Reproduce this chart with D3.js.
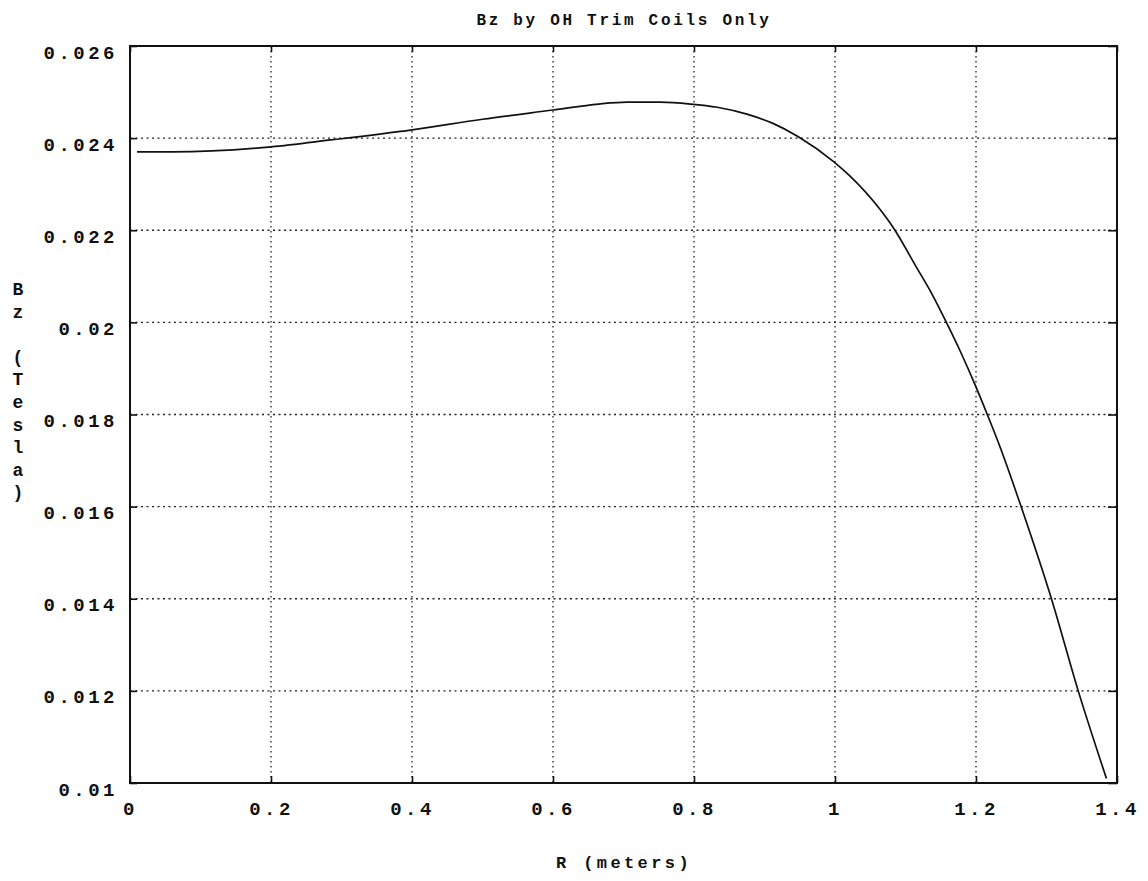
<!DOCTYPE html>
<html>
<head>
<meta charset="utf-8">
<script src="https://cdn.jsdelivr.net/npm/d3@7"></script>
<style>
  body { margin: 0; background: #fff; }
  svg { display: block; }
  text { font-family: "Liberation Mono", "DejaVu Sans Mono", monospace; font-weight: bold; fill: #111; }
</style>
</head>
<body>
<svg id="chart" width="1148" height="881"></svg>
<script>
// values
const radius = [0.01, 0.06, 0.2, 0.285, 0.4, 0.5, 0.6, 0.665, 0.705, 0.752, 0.795, 0.833, 0.875, 0.912, 0.948,
  0.998, 1.021, 1.064, 1.083, 1.115, 1.137, 1.158, 1.179, 1.198, 1.216, 1.234, 1.264, 1.307, 1.345, 1.385];
const bz = [0.02370, 0.02370, 0.02381, 0.02396, 0.02418, 0.02441, 0.02461, 0.02474, 0.02478, 0.02478, 0.02474, 0.02467, 0.02452, 0.02432, 0.02403,
  0.02349, 0.02318, 0.02245, 0.02205, 0.02121, 0.02063, 0.02000, 0.01933, 0.01867, 0.01800, 0.01730, 0.01600, 0.01400, 0.01200, 0.01010];

const xTicks = [0, 0.2, 0.4, 0.6, 0.8, 1, 1.2, 1.4];
const xTickLabels = ["0", "0.2", "0.4", "0.6", "0.8", "1", "1.2", "1.4"];
const yTicks = [0.01, 0.012, 0.014, 0.016, 0.018, 0.02, 0.022, 0.024, 0.026];
const yTickLabels = ["0.01", "0.012", "0.014", "0.016", "0.018", "0.02", "0.022", "0.024", "0.026"];
const yLabelChars = ["B", "z", "", "(", "T", "e", "s", "l", "a", ")"];

const margin = { top: 46, left: 130 };
const width = 987, height = 737;

const svg = d3.select("#chart");
const g = svg.append("g").attr("transform", `translate(${margin.left},${margin.top})`);

const x = d3.scaleLinear().domain([0, 1.4]).range([0, width]);
const y = d3.scaleLinear().domain([0.01, 0.026]).range([height, 0]);

// dotted grid
g.selectAll(".vgrid").data(xTicks.slice(1, -1)).enter().append("line")
  .attr("x1", d => x(d)).attr("x2", d => x(d))
  .attr("y1", 0).attr("y2", height)
  .attr("stroke", "#222").attr("stroke-width", 1.3)
  .attr("stroke-dasharray", "1.5,3.5");
g.selectAll(".hgrid").data(yTicks.slice(1, -1)).enter().append("line")
  .attr("x1", 0).attr("x2", width)
  .attr("y1", d => y(d)).attr("y2", d => y(d))
  .attr("stroke", "#222").attr("stroke-width", 1.3)
  .attr("stroke-dasharray", "2,3.5");

// axes, ticks pointing inward
const fmtX = d => xTickLabels[xTicks.indexOf(d)];
const fmtY = d => yTickLabels[yTicks.indexOf(d)];

const xAxis = g.append("g").attr("transform", `translate(0,${height})`)
  .call(d3.axisBottom(x).tickValues(xTicks).tickFormat(fmtX).tickSizeInner(-7).tickSizeOuter(0));
xAxis.selectAll("text").attr("y", 19).attr("font-size", 19).style("letter-spacing", "3.5px");

const yAxis = g.append("g")
  .call(d3.axisLeft(y).tickValues(yTicks).tickFormat(fmtY).tickSizeInner(-7).tickSizeOuter(0));
yAxis.selectAll("text").attr("x", -12).attr("y", 6).attr("font-size", 19).style("letter-spacing", "3.5px");

g.append("g").attr("transform", `translate(${width},0)`)
  .call(d3.axisRight(y).tickValues(yTicks).tickFormat("").tickSizeInner(-9).tickSizeOuter(0));
g.append("g")
  .call(d3.axisTop(x).tickValues(xTicks).tickFormat("").tickSizeInner(-6).tickSizeOuter(0));

g.selectAll(".domain").remove();
g.selectAll(".tick line").attr("stroke", "#111").attr("stroke-width", 1.6);

// frame
g.append("rect").attr("width", width).attr("height", height)
  .attr("fill", "none").attr("stroke", "#111").attr("stroke-width", 2);

// curve
const pts = radius.map((r, i) => ({ r: r, b: bz[i] }));
const line = d3.line().x(d => x(d.r)).y(d => y(d.b)).curve(d3.curveMonotoneX);
g.append("path").datum(pts)
  .attr("d", line)
  .attr("fill", "none")
  .attr("stroke", "#111")
  .attr("stroke-width", 1.7);

// titles
svg.append("text").attr("x", 624).attr("y", 25)
  .attr("text-anchor", "middle").attr("font-size", 16)
  .style("letter-spacing", "2.7px")
  .text("Bz by OH Trim Coils Only");

svg.append("text").attr("x", 624).attr("y", 868)
  .attr("text-anchor", "middle").attr("font-size", 17)
  .style("letter-spacing", "3.4px")
  .text("R (meters)");

svg.append("g").selectAll("text").data(yLabelChars).enter().append("text")
  .attr("x", 18)
  .attr("y", (d, i) => 295 + i * 22.6)
  .attr("text-anchor", "middle").attr("font-size", 18)
  .text(d => d);
</script>
</body>
</html>
